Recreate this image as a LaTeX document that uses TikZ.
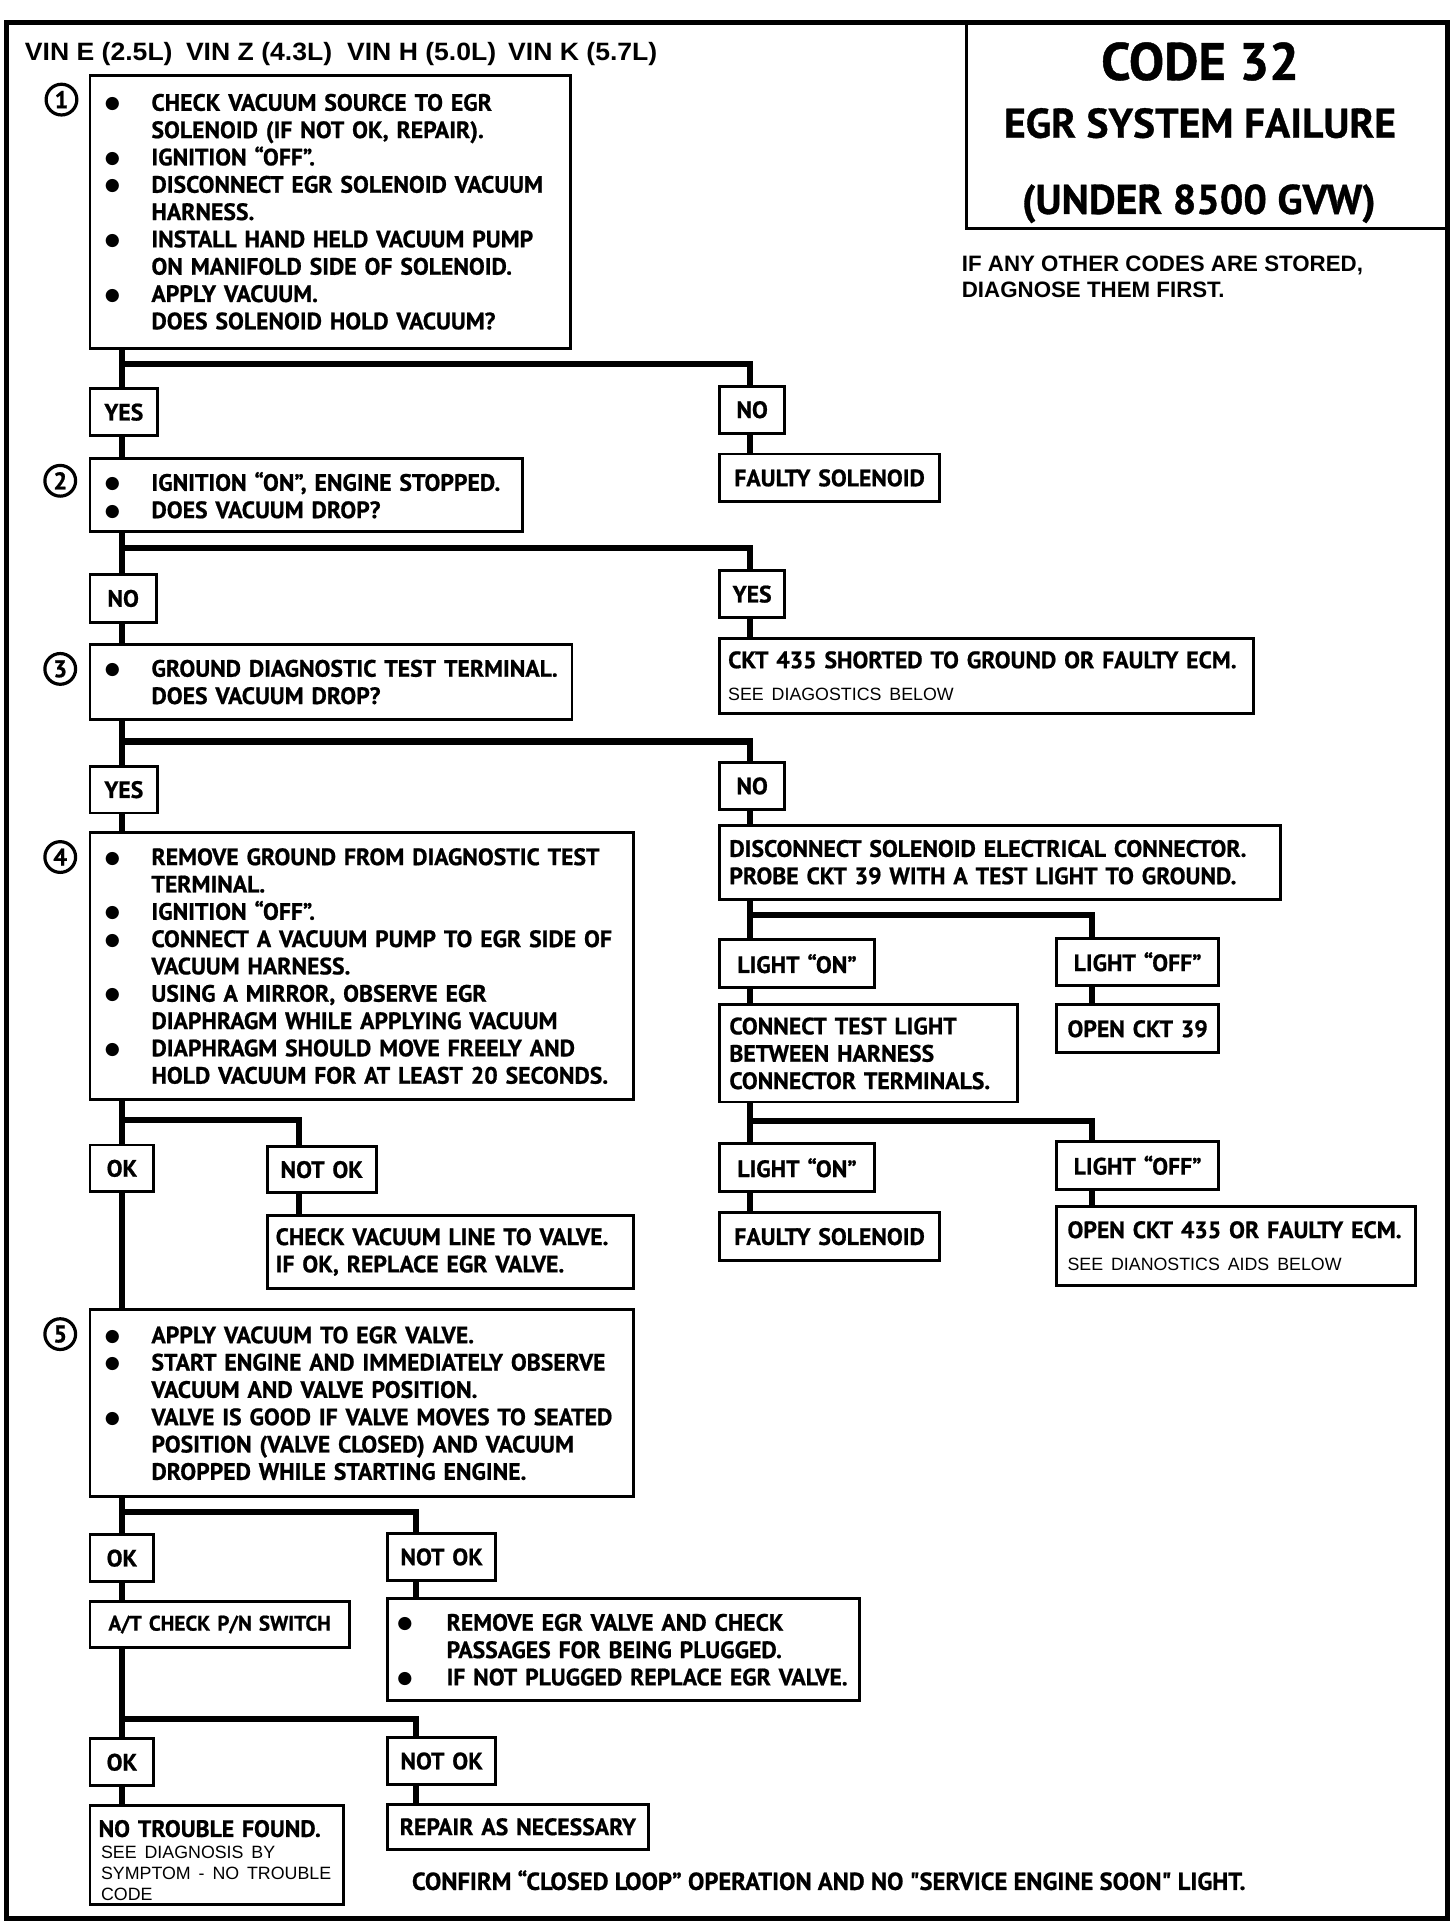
\documentclass[tikz,border=0pt]{standalone}
\usepackage{fontspec}
\setmainfont{PT Sans}
\newfontfamily\ptb{PT Sans}[BoldFeatures={FakeBold=0.8}]
\newfontfamily\hv{Liberation Sans}
\newfontfamily\hvw{Liberation Sans}[FakeStretch=1.06]
\newfontfamily\dvs{DejaVu Sans}
\newlength\pu \setlength\pu{0.025cm}
\newlength\tw
\newcommand\bxf{\ptb\bfseries\fontsize{13.7}{15.8}\selectfont}
\newcommand\bul{\raisebox{1.1pt}{\dvs\fontsize{10}{10}\selectfont ●}}
\newcommand\bl[1]{\mbox{\makebox[38\pu][l]{\bul}#1}}
\newcommand\ct[1]{\mbox{\hspace*{38\pu}#1}}
\newcommand\blr[1]{\mbox{\makebox[40\pu][l]{\bul}#1}}
\newcommand\ctr[1]{\mbox{\hspace*{40\pu}#1}}
\newcommand\sm[1]{{\hv\mdseries\fontsize{10.3}{12}\selectfont #1}}
% opts, name, x1, y1, x2, y2, xsep, text
\newcommand\mybox[8][]{%
  \setlength\tw{\dimexpr\pu*(#5-#3)-\pu*(2*#7)\relax}%
  \node[bxs,inner xsep=#7\pu,text width=\tw,minimum height={(#6-#4)*\pu},anchor=north west,#1] (#2) at (#3,#4) {#8};}
\tikzset{
  bxs/.style={draw, line width=2.4\pu, inner ysep=0pt, align=left, font=\bxf},
  cn/.style={line width=5\pu},
  num/.style={circle, draw, line width=2.6\pu, minimum size=25\pu, inner sep=0pt, font=\ptb\bfseries\fontsize{14}{14}\selectfont},
  plain/.style={inner sep=0pt, anchor=base west},
}
\begin{document}
\begin{tikzpicture}[x=0.025cm, y=-0.025cm]
\useasboundingbox (0,0) rectangle (1184,1568);
% frame
\draw[line width=4\pu] (5,18) rectangle (1177,1560);
\node[draw, line width=2.4\pu, inner sep=0pt, anchor=north west, minimum width=392*\pu, minimum height=167*\pu] (title) at (785,18) {};
\node[inner sep=0pt, anchor=base, font=\ptb\bfseries\fontsize{30.5}{32}\selectfont] (t1) at (976,65) {CODE 32};
\node[inner sep=0pt, anchor=base, font=\ptb\bfseries\fontsize{24}{26}\selectfont] (t2) at (976,112) {EGR SYSTEM FAILURE};
\node[inner sep=0pt, anchor=base, font=\ptb\bfseries\fontsize{24}{26}\selectfont] (t3) at (975,174) {(UNDER 8500 GVW)};
\node[plain, font=\hvw\bfseries\fontsize{14.5}{16}\selectfont] (vin) at (20,49) {\makebox[131\pu][l]{VIN E (2.5L)}\makebox[131\pu][l]{VIN Z (4.3L)}\makebox[131\pu][l]{VIN H (5.0L)}VIN K (5.7L)};
\node[plain, font=\hv\bfseries\fontsize{12.9}{14}\selectfont] (note1) at (782,221) {IF ANY OTHER CODES ARE STORED,};
\node[plain, font=\hv\bfseries\fontsize{12.9}{14}\selectfont] (note2) at (782,242) {DIAGNOSE THEM FIRST.};

% step circles
\node[num] (n1) at (50,81) {1};
\node[num] (n2) at (49,391) {2};
\node[num] (n3) at (49,544) {3};
\node[num] (n4) at (49,697) {4};
\node[num] (n5) at (49,1085) {5};

% boxes
\mybox{b1}{72}{60}{463}{282}{12}{\bl{CHECK VACUUM SOURCE TO EGR}\\\ct{SOLENOID (IF NOT OK, REPAIR).}\\\bl{IGNITION “OFF”.}\\\bl{DISCONNECT EGR SOLENOID VACUUM}\\\ct{HARNESS.}\\\bl{INSTALL HAND HELD VACUUM PUMP}\\\ct{ON MANIFOLD SIDE OF SOLENOID.}\\\bl{APPLY VACUUM.}\\\ct{DOES SOLENOID HOLD VACUUM?}}
\mybox[align=center]{yes1}{72}{315}{127}{353}{4}{YES}
\mybox[align=center]{no1}{584}{313}{637}{351}{4}{NO}
\mybox[align=center]{fs1}{584}{368}{763}{407}{4}{\mbox{FAULTY SOLENOID}}
\mybox{b2}{72}{372}{424}{431}{12}{\bl{IGNITION “ON”, ENGINE STOPPED.}\\\bl{DOES VACUUM DROP?}}
\mybox[align=center]{no2}{72}{466}{126}{505}{4}{NO}
\mybox[align=center]{yes2}{584}{463}{637}{501}{4}{YES}
\mybox{b3}{72}{523}{464}{584}{12}{\bl{GROUND DIAGNOSTIC TEST TERMINAL.}\\\ct{DOES VACUUM DROP?}}
\mybox{ckt}{584}{518}{1018}{579}{7}{\mbox{CKT 435 SHORTED TO GROUND OR FAULTY ECM.}\\[4\pu]\sm{SEE DIAGOSTICS BELOW}}
\mybox[align=center]{yes3}{72}{622}{127}{660}{4}{YES}
\mybox[align=center]{no3}{584}{619}{637}{657}{4}{NO}
\mybox{b4}{72}{676}{514}{893}{12}{\bl{REMOVE GROUND FROM DIAGNOSTIC TEST}\\\ct{TERMINAL.}\\\bl{IGNITION “OFF”.}\\\bl{CONNECT A VACUUM PUMP TO EGR SIDE OF}\\\ct{VACUUM HARNESS.}\\\bl{USING A MIRROR, OBSERVE EGR}\\\ct{DIAPHRAGM WHILE APPLYING VACUUM}\\\bl{DIAPHRAGM SHOULD MOVE FREELY AND}\\\ct{HOLD VACUUM FOR AT LEAST 20 SECONDS.}}
\mybox{disc}{584}{670}{1040}{730}{8}{\mbox{DISCONNECT SOLENOID ELECTRICAL CONNECTOR.}\\\mbox{PROBE CKT 39 WITH A TEST LIGHT TO GROUND.}}
\mybox[align=center]{lon1}{584}{763}{710}{802}{4}{\mbox{LIGHT “ON”}}
\mybox[align=center]{loff1}{858}{762}{990}{800}{4}{\mbox{LIGHT “OFF”}}
\mybox{ctl}{584}{816}{826}{895}{8}{CONNECT TEST LIGHT\\BETWEEN HARNESS\\\mbox{CONNECTOR TERMINALS.}}
\mybox[align=center]{ock39}{858}{816}{990}{855}{4}{\mbox{OPEN CKT 39}}
\mybox[align=center]{lon2}{584}{929}{710}{968}{4}{\mbox{LIGHT “ON”}}
\mybox[align=center]{loff2}{858}{927}{990}{966}{4}{\mbox{LIGHT “OFF”}}
\mybox[align=center]{fs2}{584}{985}{763}{1024}{4}{\mbox{FAULTY SOLENOID}}
\mybox{ock435}{858}{980}{1150}{1044}{9}{\mbox{OPEN CKT 435 OR FAULTY ECM.}\\[4\pu]\sm{SEE DIANOSTICS AIDS BELOW}}
\mybox[align=center]{ok1}{72}{930}{124}{968}{4}{OK}
\mybox[align=center]{nok1}{216}{931}{305}{969}{4}{\mbox{NOT OK}}
\mybox{cvl}{216}{987}{514}{1047}{7}{\mbox{CHECK VACUUM LINE TO VALVE.}\\\mbox{IF OK, REPLACE EGR VALVE.}}
\mybox{b5}{72}{1064}{514}{1216}{12}{\bl{APPLY VACUUM TO EGR VALVE.}\\\bl{START ENGINE AND IMMEDIATELY OBSERVE}\\\ct{VACUUM AND VALVE POSITION.}\\\bl{VALVE IS GOOD IF VALVE MOVES TO SEATED}\\\ct{POSITION (VALVE CLOSED) AND VACUUM}\\\ct{DROPPED WHILE STARTING ENGINE.}}
\mybox[align=center]{ok2}{72}{1247}{124}{1285}{4}{OK}
\mybox[align=center]{nok2}{314}{1246}{402}{1284}{4}{\mbox{NOT OK}}
\mybox[align=center,font=\ptb\bfseries\fontsize{12.2}{14}\selectfont]{at}{72}{1301}{283}{1339}{3}{\mbox{A/T CHECK P/N SWITCH}}
\mybox{rem}{314}{1299}{698}{1382}{8}{\blr{REMOVE EGR VALVE AND CHECK}\\\ctr{PASSAGES FOR BEING PLUGGED.}\\\blr{IF NOT PLUGGED REPLACE EGR VALVE.}}
\mybox[align=center]{ok3}{72}{1413}{124}{1451}{4}{OK}
\mybox[align=center]{nok3}{314}{1412}{402}{1450}{4}{\mbox{NOT OK}}
\mybox{ntf}{72}{1467}{278}{1548}{7}{\\[0pt]\mbox{NO TROUBLE FOUND.}\\[-5\pu]\sm{\hspace*{2\pu}SEE DIAGNOSIS BY}\\[-5\pu]\sm{\hspace*{2\pu}SYMPTOM - NO TROUBLE}\\[-5\pu]\sm{\hspace*{2\pu}CODE}}
\mybox[align=center]{rep}{314}{1466}{526}{1503}{4}{\mbox{REPAIR AS NECESSARY}}
\node[inner sep=0pt, anchor=base, font=\ptb\bfseries\fontsize{14.2}{16}\selectfont] (confirm) at (674,1537) {CONFIRM “CLOSED LOOP” OPERATION AND NO "SERVICE ENGINE SOON" LIGHT.};

% connector columns and junctions
\coordinate (cL) at (99,0);
\coordinate (cR) at (610,0);
\coordinate (cRR) at (888,0);
\coordinate (cN1) at (243,0);
\coordinate (cN2) at (338,0);
\coordinate (j1) at (99,296);
\coordinate (j2) at (99,446);
\coordinate (j3) at (99,603);
\coordinate (j4) at (610,744);
\coordinate (j5) at (610,912);
\coordinate (j6) at (99,911);
\coordinate (j7) at (99,1230);
\coordinate (j8) at (99,1398);

\draw[cn] (b1.south -| cL) -- (yes1.north -| cL);
\draw[cn] (j1) -| (no1.north -| cR);
\draw[cn] (yes1.south -| cL) -- (b2.north -| cL);
\draw[cn] (no1.south -| cR) -- (fs1.north -| cR);
\draw[cn] (b2.south -| cL) -- (no2.north -| cL);
\draw[cn] (j2) -| (yes2.north -| cR);
\draw[cn] (no2.south -| cL) -- (b3.north -| cL);
\draw[cn] (yes2.south -| cR) -- (ckt.north -| cR);
\draw[cn] (b3.south -| cL) -- (yes3.north -| cL);
\draw[cn] (j3) -| (no3.north -| cR);
\draw[cn] (yes3.south -| cL) -- (b4.north -| cL);
\draw[cn] (no3.south -| cR) -- (disc.north -| cR);
\draw[cn] (disc.south -| cR) -- (lon1.north -| cR);
\draw[cn] (j4) -| (loff1.north -| cRR);
\draw[cn] (lon1.south -| cR) -- (ctl.north -| cR);
\draw[cn] (loff1.south -| cRR) -- (ock39.north -| cRR);
\draw[cn] (ctl.south -| cR) -- (lon2.north -| cR);
\draw[cn] (j5) -| (loff2.north -| cRR);
\draw[cn] (lon2.south -| cR) -- (fs2.north -| cR);
\draw[cn] (loff2.south -| cRR) -- (ock435.north -| cRR);
\draw[cn] (b4.south -| cL) -- (ok1.north -| cL);
\draw[cn] (j6) -| (nok1.north -| cN1);
\draw[cn] (ok1.south -| cL) -- (b5.north -| cL);
\draw[cn] (nok1.south -| cN1) -- (cvl.north -| cN1);
\draw[cn] (b5.south -| cL) -- (ok2.north -| cL);
\draw[cn] (j7) -| (nok2.north -| cN2);
\draw[cn] (ok2.south -| cL) -- (at.north -| cL);
\draw[cn] (nok2.south -| cN2) -- (rem.north -| cN2);
\draw[cn] (at.south -| cL) -- (ok3.north -| cL);
\draw[cn] (j8) -| (nok3.north -| cN2);
\draw[cn] (ok3.south -| cL) -- (ntf.north -| cL);
\draw[cn] (nok3.south -| cN2) -- (rep.north -| cN2);
\end{tikzpicture}
\end{document}
